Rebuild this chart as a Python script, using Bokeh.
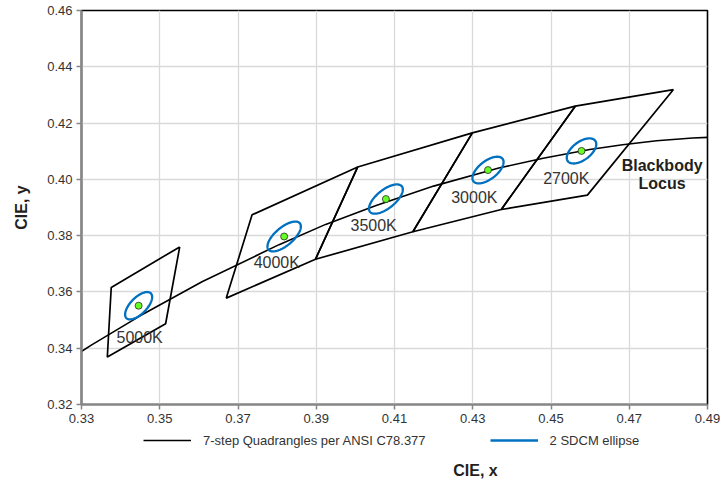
import numpy as np
from bokeh.plotting import figure
from bokeh.layouts import column
from bokeh.models import (Legend, LegendItem, FixedTicker, Range1d,
                          NumeralTickFormatter, Label)
from bokeh.core.properties import value
from bokeh.embed import file_html
from bokeh.resources import INLINE

# ---------------- data ----------------
x_ticks = [0.33, 0.35, 0.37, 0.39, 0.41, 0.43, 0.45, 0.47, 0.49]
y_ticks = [0.32, 0.34, 0.36, 0.38, 0.40, 0.42, 0.44, 0.46]

cct_names = ["5000K", "4000K", "3500K", "3000K", "2700K"]

# 7-step quadrangle corners (TR, TL, BL, BR)
quad_x = [
    [0.3551, 0.3376, 0.3366, 0.3515],
    [0.4006, 0.3736, 0.3670, 0.3898],
    [0.4299, 0.4006, 0.3898, 0.4147],
    [0.4562, 0.4299, 0.4147, 0.4373],
    [0.4813, 0.4562, 0.4373, 0.4593],
]
quad_y = [
    [0.3760, 0.3616, 0.3369, 0.3487],
    [0.4044, 0.3874, 0.3578, 0.3716],
    [0.4165, 0.4044, 0.3716, 0.3814],
    [0.4260, 0.4165, 0.3814, 0.3893],
    [0.4319, 0.4260, 0.3893, 0.3944],
]

# 2 SDCM ellipses: centre, semi-axes, rotation (deg)
ell_x = [0.3446, 0.3818, 0.4078, 0.4339, 0.4578]
ell_y = [0.3551, 0.3797, 0.3930, 0.4033, 0.4101]
ell_a = [0.00548, 0.00626, 0.00618, 0.00556, 0.00516]
ell_b = [0.00236, 0.00268, 0.00276, 0.00272, 0.00274]
ell_theta = [59.37, 54.00, 52.93, 53.22, 53.70]

# Blackbody (Planckian) locus points
locus_x = [0.3221, 0.3325, 0.3451, 0.3608, 0.3805, 0.3924, 0.4053, 0.4200,
           0.4369, 0.4480, 0.4599, 0.4683, 0.4770, 0.4862, 0.4959]
locus_y = [0.3318, 0.3411, 0.3516, 0.3636, 0.3768, 0.3840, 0.3907, 0.3976,
           0.4041, 0.4075, 0.4106, 0.4123, 0.4137, 0.4147, 0.4152]

# label anchor positions (left edge, vertical middle)
label_x = [0.33895, 0.3740, 0.39875, 0.42449, 0.4480]
label_y = [0.3438, 0.3703, 0.3836, 0.39356, 0.40014]

locus_label = ["Blackbody", "Locus"]
locus_label_x = [0.4784, 0.4784]
locus_label_y = [0.4050, 0.3985]

legend_labels = ["7-step Quadrangles per ANSI C78.377", "2 SDCM ellipse"]

# ---------------- main figure ----------------
FONT = "Liberation Sans"
TXT = "#333333"
QUAD_COLOR = "black"
ELL_COLOR = "#0070c0"

p = figure(width=720, height=430, output_backend="svg", toolbar_location=None,
           x_range=Range1d(0.33, 0.49), y_range=Range1d(0.32, 0.46),
           min_border_left=81, min_border_right=13, min_border_top=10,
           min_border_bottom=26)

p.background_fill_color = "white"
p.border_fill_color = "white"
p.outline_line_color = "black"
p.outline_line_width = 1.6

for ax in (p.xaxis[0], p.yaxis[0]):
    ax.axis_line_color = "#868686"
    ax.axis_line_width = 2.2
    ax.major_tick_line_color = "#868686"
    ax.major_tick_line_width = 1.5
    ax.major_tick_in = 0
    ax.major_tick_out = 5
    ax.minor_tick_line_color = None
    ax.major_label_text_font = FONT
    ax.major_label_text_font_size = "13px"
    ax.major_label_text_color = TXT
    ax.major_label_standoff = 4
    ax.formatter = NumeralTickFormatter(format="0.00")
    ax.axis_label_text_font = FONT
    ax.axis_label_text_font_size = "16px"
    ax.axis_label_text_font_style = "bold"
    ax.axis_label_text_color = "#231f20"

p.xaxis[0].ticker = FixedTicker(ticks=x_ticks)
p.yaxis[0].ticker = FixedTicker(ticks=y_ticks)

p.yaxis[0].axis_label = "CIE, y"
p.yaxis[0].axis_label_standoff = 14

p.xgrid[0].ticker = FixedTicker(ticks=x_ticks)
p.ygrid[0].ticker = FixedTicker(ticks=y_ticks)
for g in (p.xgrid[0], p.ygrid[0]):
    g.grid_line_color = "#d9d9d9"
    g.grid_line_width = 1.3

# blackbody locus
p.line(locus_x, locus_y, line_color="black", line_width=1.6)

# quadrangles (closed outlines)
qxs = [q + [q[0]] for q in quad_x]
qys = [q + [q[0]] for q in quad_y]
p.multi_line(qxs, qys, line_color=QUAD_COLOR, line_width=1.7)

# ellipses (outline from centre / axes / angle)
t = np.linspace(0, 2 * np.pi, 121)
exs, eys = [], []
for cx, cy, a, b, th in zip(ell_x, ell_y, ell_a, ell_b, ell_theta):
    r = np.deg2rad(th)
    exs.append(cx + a * np.cos(t) * np.cos(r) - b * np.sin(t) * np.sin(r))
    eys.append(cy + a * np.cos(t) * np.sin(r) + b * np.sin(t) * np.cos(r))
p.multi_line(exs, eys, line_color=ELL_COLOR, line_width=2.3)

# centre dots
p.scatter(ell_x, ell_y, size=7, fill_color="#66ff22", line_color="#2a2a2a",
          line_width=0.8)

# CCT labels
p.text(label_x, label_y, text=cct_names, text_font=value(FONT),
       text_font_size="16px", text_color=TXT, text_align="left",
       text_baseline="middle")

p.text(locus_label_x, locus_label_y, text=locus_label, text_font=value(FONT),
       text_font_size="16px", text_font_style="bold", text_color="#231f20",
       text_align="center", text_baseline="middle")

# ---------------- legend + x title strip ----------------
p2 = figure(width=720, height=53, output_backend="svg", toolbar_location=None,
            x_range=Range1d(0, 1), y_range=Range1d(0, 1),
            x_axis_location=None, y_axis_location=None,
            min_border=0)
p2.outline_line_color = None
p2.xgrid.visible = False
p2.ygrid.visible = False

# legend proxies (drawn outside the visible range)
r1 = p2.line([-2, -1], [-2, -1], line_color=QUAD_COLOR, line_width=1.7)
r2 = p2.line([-2, -1], [-2, -1], line_color=ELL_COLOR, line_width=2.3)

legend = Legend(items=[
    LegendItem(label=legend_labels[0], renderers=[r1]),
    LegendItem(label=legend_labels[1], renderers=[r2]),
], orientation="horizontal", location=(62, 33), glyph_width=48,
    glyph_height=20, label_height=20,
    label_standoff=12, spacing=64, padding=2, margin=0,
    border_line_color=None, background_fill_alpha=0,
    label_text_font=FONT, label_text_font_size="13px",
    label_text_color=TXT)
p2.add_layout(legend, "center")

p2.add_layout(Label(x=394, y=13, x_units="screen", y_units="screen",
                    text="CIE, x", text_align="center", text_baseline="middle",
                    text_font=FONT, text_font_size="16px",
                    text_font_style="bold", text_color="#231f20"))

open("out.html", "w").write(file_html(column(p, p2, spacing=0), INLINE))
